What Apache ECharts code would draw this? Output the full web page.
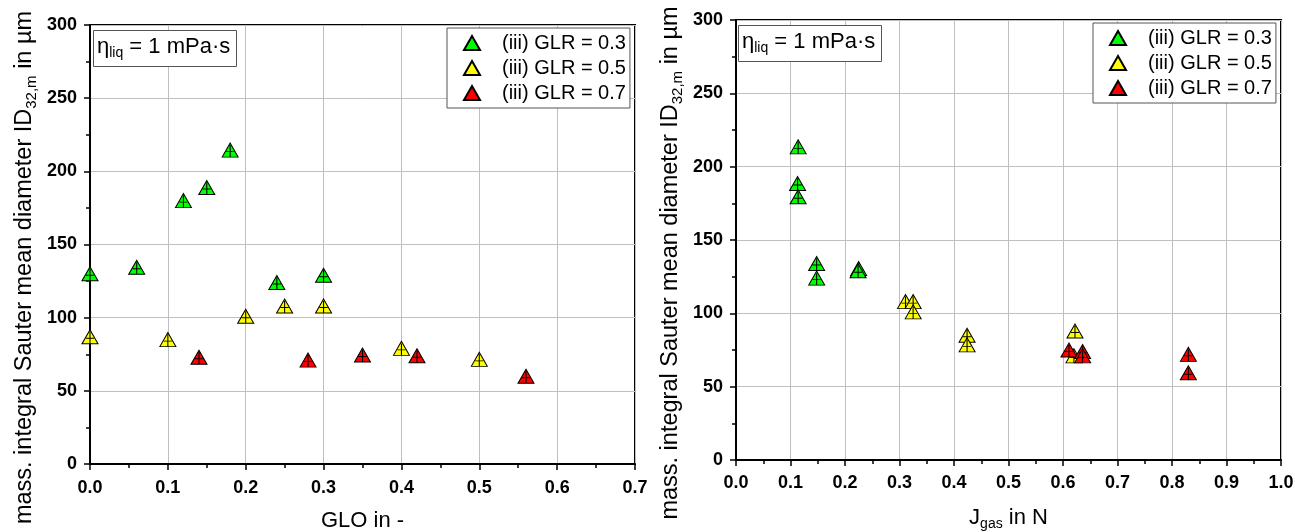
<!DOCTYPE html>
<html>
<head>
<meta charset="utf-8">
<script src="https://cdn.jsdelivr.net/npm/echarts@6/dist/echarts.min.js"></script>
<style>html,body{margin:0;padding:0;background:#fff;}#c{width:1295px;height:532px;}</style>
</head>
<body>
<div id="c"></div>
<script>
// ---- Data ----
const seriesNames = ['(iii) GLR = 0.3', '(iii) GLR = 0.5', '(iii) GLR = 0.7'];
const seriesColors = ['#00ff00', '#ffff00', '#ff0000'];

// Left panel: GLO vs ID32,m
const gloGLR03 = [[0.00,130],[0.06,134.5],[0.12,180],[0.15,189],[0.18,214.5],[0.24,124],[0.30,129]];
const gloGLR05 = [[0.00,87],[0.10,85],[0.20,101],[0.25,108],[0.30,108],[0.40,79],[0.50,71.5]];
const gloGLR07 = [[0.14,73],[0.28,71],[0.35,74.5],[0.42,74],[0.56,60]];

// Right panel: Jgas vs ID32,m
const jgasGLR03 = [[0.114,213.5],[0.113,188.5],[0.114,179.5],[0.148,134],[0.148,124],[0.225,130.5],[0.224,129]];
const jgasGLR05 = [[0.311,108],[0.325,108],[0.325,101],[0.424,85],[0.424,78.5],[0.622,88],[0.620,71]];
const jgasGLR07 = [[0.611,75],[0.636,74],[0.636,71],[0.830,72],[0.830,59.5]];

const xTicksLeft = {min: 0, max: 0.7, interval: 0.1};
const xTicksRight = {min: 0, max: 1.0, interval: 0.1};
const yTicks = {min: 0, max: 300, interval: 50};

// ---- Styling ----
const FONT = 'Liberation Sans, Arial, sans-serif';
const markerPath = 'path://M0,14L8,0L16,14Z M8,2L8,14 M4,8.5L12,8.5';
const legendIcon = 'path://M0,14L8,0L16,14Z';

const subRich = {sub: {fontFamily: FONT, fontSize: 14, fontWeight: 'normal', color: '#000', verticalAlign: 'top', padding: [13, 0, 0, 0]}};
const subRichY = {sub: {fontFamily: FONT, fontSize: 15, fontWeight: 'normal', color: '#000', verticalAlign: 'top', padding: [14, 0, 0, 0]}};

function xAxis(gridIndex, ticks, name, labelMargin, nameGap) {
  return {
    type: 'value', gridIndex, min: ticks.min, max: ticks.max, interval: ticks.interval,
    name: name, nameLocation: 'middle', nameGap: nameGap,
    nameTextStyle: {fontFamily: FONT, fontSize: 22, color: '#000', rich: subRich},
    axisLine: {show: true, onZero: false, lineStyle: {color: '#000', width: 2}},
    axisTick: {show: true, inside: false, length: 6, lineStyle: {color: '#000', width: 1.5}},
    minorTick: {show: true, splitNumber: 2, length: 4, lineStyle: {color: '#000', width: 1.5}},
    splitLine: {show: true, lineStyle: {color: '#bfbfbf', width: 1}},
    axisLabel: {fontFamily: FONT, fontSize: 18, fontWeight: 'bold', color: '#000', margin: labelMargin,
      formatter: v => v.toFixed(1)}
  };
}
function yAxis(gridIndex) {
  return {
    type: 'value', gridIndex, min: yTicks.min, max: yTicks.max, interval: yTicks.interval,
    name: 'mass. integral Sauter mean diameter ID{sub|32,m} in µm',
    nameLocation: 'middle', nameGap: 51,
    nameTextStyle: {fontFamily: FONT, fontSize: 23.5, color: '#000', rich: subRichY, padding: [0, 46, 0, 0]},
    axisLine: {show: true, onZero: false, lineStyle: {color: '#000', width: 2}},
    axisTick: {show: true, inside: false, length: 6, lineStyle: {color: '#000', width: 1.5}},
    minorTick: {show: true, splitNumber: 2, length: 4, lineStyle: {color: '#000', width: 1.5}},
    splitLine: {show: true, lineStyle: {color: '#bfbfbf', width: 1}},
    axisLabel: {fontFamily: FONT, fontSize: 18, fontWeight: 'bold', color: '#000', margin: 13}
  };
}
function scatter(name, color, data, idx) {
  return {
    type: 'scatter', name, data, xAxisIndex: idx, yAxisIndex: idx,
    symbol: markerPath, symbolSize: [16, 14], clip: false,
    itemStyle: {color, borderColor: '#000', borderWidth: 1, opacity: 1},
    emphasis: {disabled: true}
  };
}
function legend(left, top) {
  return {
    orient: 'vertical', left, top, itemWidth: 50, itemHeight: 14, itemGap: 5,
    padding: [5, 4, 5, 16], borderColor: '#555', borderWidth: 1, backgroundColor: '#fff',
    selectedMode: false,
    textStyle: {fontFamily: FONT, fontSize: 20, color: '#000'},
    data: seriesNames.map(n => ({name: n, icon: legendIcon}))
  };
}
const etaRich = {
  n: {fontFamily: FONT, fontSize: 22, fontWeight: 'normal', color: '#000'},
  sub: {fontFamily: FONT, fontSize: 14, fontWeight: 'normal', color: '#000', verticalAlign: 'top', padding: [13, 0, 0, 0]}
};
function etaTitle(left, top) {
  return {
    text: '{n|η}{sub|liq}{n| = 1 mPa·s}', left, top,
    padding: [5, 7, 7, 4], borderColor: '#555', borderWidth: 1, backgroundColor: '#fff',
    textStyle: {fontWeight: 'normal', rich: etaRich}
  };
}

const chart = echarts.init(document.getElementById('c'), null, {renderer: 'canvas'});
chart.setOption({
  animation: false,
  backgroundColor: '#fff',
  title: [etaTitle(93, 28), etaTitle(738, 23)],
  legend: [legend(447, 28), legend(1093, 23)],
  grid: [
    {left: 90, top: 25, width: 545, height: 439, outerBoundsMode: 'none', containLabel: false,
      show: true, borderColor: '#000', borderWidth: 2, backgroundColor: 'transparent'},
    {left: 736, top: 20, width: 545, height: 440, outerBoundsMode: 'none', containLabel: false,
      show: true, borderColor: '#000', borderWidth: 2, backgroundColor: 'transparent'}
  ],
  xAxis: [
    xAxis(0, xTicksLeft, 'GLO in -', 15, 46),
    xAxis(1, xTicksRight, 'J{sub|gas} in N', 14, 44)
  ],
  yAxis: [yAxis(0), yAxis(1)],
  series: [
    scatter(seriesNames[0], seriesColors[0], gloGLR03, 0),
    scatter(seriesNames[1], seriesColors[1], gloGLR05, 0),
    scatter(seriesNames[2], seriesColors[2], gloGLR07, 0),
    scatter(seriesNames[0], seriesColors[0], jgasGLR03, 1),
    scatter(seriesNames[1], seriesColors[1], jgasGLR05, 1),
    scatter(seriesNames[2], seriesColors[2], jgasGLR07, 1)
  ]
});
</script>
</body>
</html>
